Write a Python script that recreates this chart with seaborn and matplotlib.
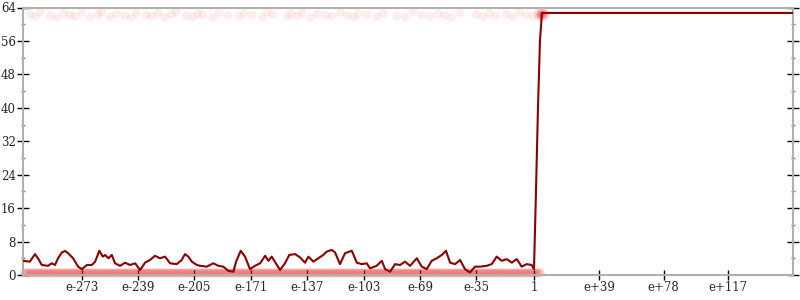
import numpy as np
import pandas as pd
import matplotlib
matplotlib.use("Agg")
import matplotlib.pyplot as plt
import seaborn as sns

# ---------------- data ----------------
tick_pos = [-273, -239, -205, -171, -137, -103, -69, -35, 0, 39, 78, 117]
tick_labels = ["e-273", "e-239", "e-205", "e-171", "e-137", "e-103",
               "e-69", "e-35", "1", "e+39", "e+78", "e+117"]

line_x = [-308.6, -304.3, -301.2, -299.4, -297.1, -293.3, -291.1, -289.1, -287.3,
          -285.0, -283.0, -281.2, -278.2, -275.2, -272.9, -269.9, -266.9, -264.9,
          -262.4, -260.3, -258.9, -256.9, -254.9, -252.9, -249.9, -246.9, -243.9,
          -240.8, -237.8, -234.8, -231.8, -228.8, -225.8, -222.8, -219.7, -215.7,
          -212.7, -210.7, -208.7, -206.6, -203.6, -201.6, -197.6, -193.6, -190.6,
          -187.6, -184.6, -181.5, -179.9, -177.1, -174.5, -171.5, -168.5, -165.4,
          -162.4, -160.4, -158.4, -153.4, -150.4, -147.8, -144.3, -141.3, -138.3,
          -136.3, -133.3, -130.3, -127.3, -125.2, -122.2, -120.2, -117.2, -114.2,
          -110.1, -107.1, -104.1, -101.1, -99.1, -95.1, -92.0, -90.0, -87.0, -84.0,
          -81.0, -78.0, -75.0, -70.9, -67.9, -64.9, -61.9, -58.9, -55.8, -53.3,
          -50.8, -47.8, -44.8, -41.8, -38.8, -35.8, -32.8, -28.7, -25.7, -22.7,
          -19.7, -16.6, -13.6, -10.6, -7.6, -4.6, -1.6, -0.2, 1.0, 2.2, 3.4, 4.6,
          156.5]
line_y = [3.4, 3.2, 5.0, 4.0, 2.4, 2.2, 2.8, 2.4, 4.0,
          5.4, 5.75, 5.2, 4.0, 2.0, 1.4, 2.4, 2.4, 3.2,
          5.8, 4.4, 4.8, 4.0, 4.8, 2.8, 2.2, 2.95, 2.4,
          2.8, 1.2, 2.95, 3.6, 4.6, 4.0, 4.4, 2.8, 2.6,
          3.6, 5.0, 4.4, 3.2, 2.4, 2.2, 2.0, 2.8, 2.2,
          2.0, 1.0, 0.8, 3.2, 5.8, 4.4, 1.4, 2.2, 2.8,
          4.6, 3.4, 4.4, 1.2, 2.8, 4.8, 5.0, 4.2, 2.95,
          4.4, 3.2, 4.0, 4.8, 5.6, 6.0, 5.4, 2.6, 5.2,
          5.8, 2.95, 2.6, 2.8, 1.6, 2.2, 3.4, 1.4, 0.8, 2.6,
          2.4, 3.2, 2.2, 4.0, 2.0, 1.4, 3.4, 4.0, 4.8, 5.8,
          2.95, 2.6, 3.6, 1.4, 0.6, 2.0, 2.0, 2.2, 2.6, 4.4,
          3.4, 3.8, 2.95, 3.8, 2.0, 2.6, 2.4, 1.4, 20.0, 40.0, 56.0, 62.7,
          62.7]

# observations that hit the top value (position, value)
high_x = [-304, -301, -298, -292, -288, -284, -280, -277, -273, -268, -263, -261,
          -256, -252, -247, -243, -240, -234, -231, -227, -223, -219, -216, -210,
          -206, -203, -200, -194, -190, -185, -178, -175, -170, -164, -161, -158,
          -149, -147, -143, -140, -135, -131, -126, -122, -117, -113, -109, -106,
          -101, -95, -91, -83, -78, -73, -68, -63, -58, -54, -50, -45, -35, -31,
          -27, -23, -17, -13, -9, -5, -1,
          2, 3, 3, 3, 4, 4, 4, 4, 5, 5, 5, 5, 6, 6, 6, 7]
high_y = [62.4, 61.8, 62.9, 62.1, 61.6, 62.6, 62.2, 61.9, 62.8, 61.7, 62.3, 62.9,
          61.8, 62.5, 62.0, 61.6, 62.7, 62.2, 61.9, 62.6, 61.7, 62.4, 62.9, 62.0,
          61.8, 62.5, 62.3, 61.6, 62.8, 62.1, 61.9, 62.6, 62.2, 61.7, 62.9, 62.3,
          61.8, 62.5, 62.0, 62.7, 61.6, 62.4, 62.2, 61.9, 62.8, 62.1, 61.7, 62.5,
          62.3, 61.8, 62.6, 62.0, 61.7, 62.9, 62.2, 61.9, 62.5, 62.1, 61.6, 62.7,
          62.3, 61.8, 62.6, 62.0, 62.4, 61.7, 62.8, 62.2, 61.9,
          62.5, 62.0, 62.9, 61.7, 62.4, 62.8, 61.9, 62.2, 62.6, 62.1, 61.8, 62.9,
          62.3, 62.7, 61.9, 62.5]
# observations at the bottom value
low_x = list(np.arange(-308.0, 4.5, 0.5))
low_value = 0.5

# ---------------- plot ----------------
sns.set_theme(style="white")
plt.rcParams["font.family"] = ["DejaVu Serif"]
plt.rcParams["font.size"] = 8.5

fig = plt.figure(figsize=(8, 3), dpi=100)
ax = fig.add_axes([0.0284, 0.0833, 0.9632, 0.8917])

obs = pd.DataFrame({
    "x": high_x + low_x,
    "y": high_y + [low_value] * len(low_x),
})
sns.scatterplot(data=obs, x="x", y="y", ax=ax, color="#ee1111", alpha=0.07,
                s=40, linewidth=0, edgecolor="none", zorder=2, clip_on=False,
                legend=False)

line = pd.DataFrame({"x": line_x, "y": line_y})
sns.lineplot(data=line, x="x", y="y", ax=ax, color="#8b0000", linewidth=1.5,
             estimator=None, sort=False, zorder=3)

ax.set_xlim(-308.6, 156.2)
ax.set_ylim(0, 64)
ax.set_xlabel("")
ax.set_ylabel("")

ax.set_xticks(tick_pos)
ax.set_xticklabels(tick_labels)
ax.set_yticks(np.arange(0, 65, 8))
ax.set_yticks(np.arange(4, 64, 8), minor=True)

for side in ["left", "right", "top", "bottom"]:
    ax.spines[side].set_visible(True)
    ax.spines[side].set_color("#b0b0b0")
    ax.spines[side].set_linewidth(1.5)

ax.tick_params(axis="x", which="major", direction="inout", length=7, width=1,
               color="black", pad=1, labelsize=8.5, bottom=True, top=False)
ax.tick_params(axis="y", which="major", direction="inout", length=8, width=1,
               color="black", pad=1, labelsize=8.5, left=True, right=True)
ax.tick_params(axis="y", which="minor", direction="inout", length=3, width=1,
               color="#808080", left=True, right=True)

fig.savefig("out.png", dpi=100)
